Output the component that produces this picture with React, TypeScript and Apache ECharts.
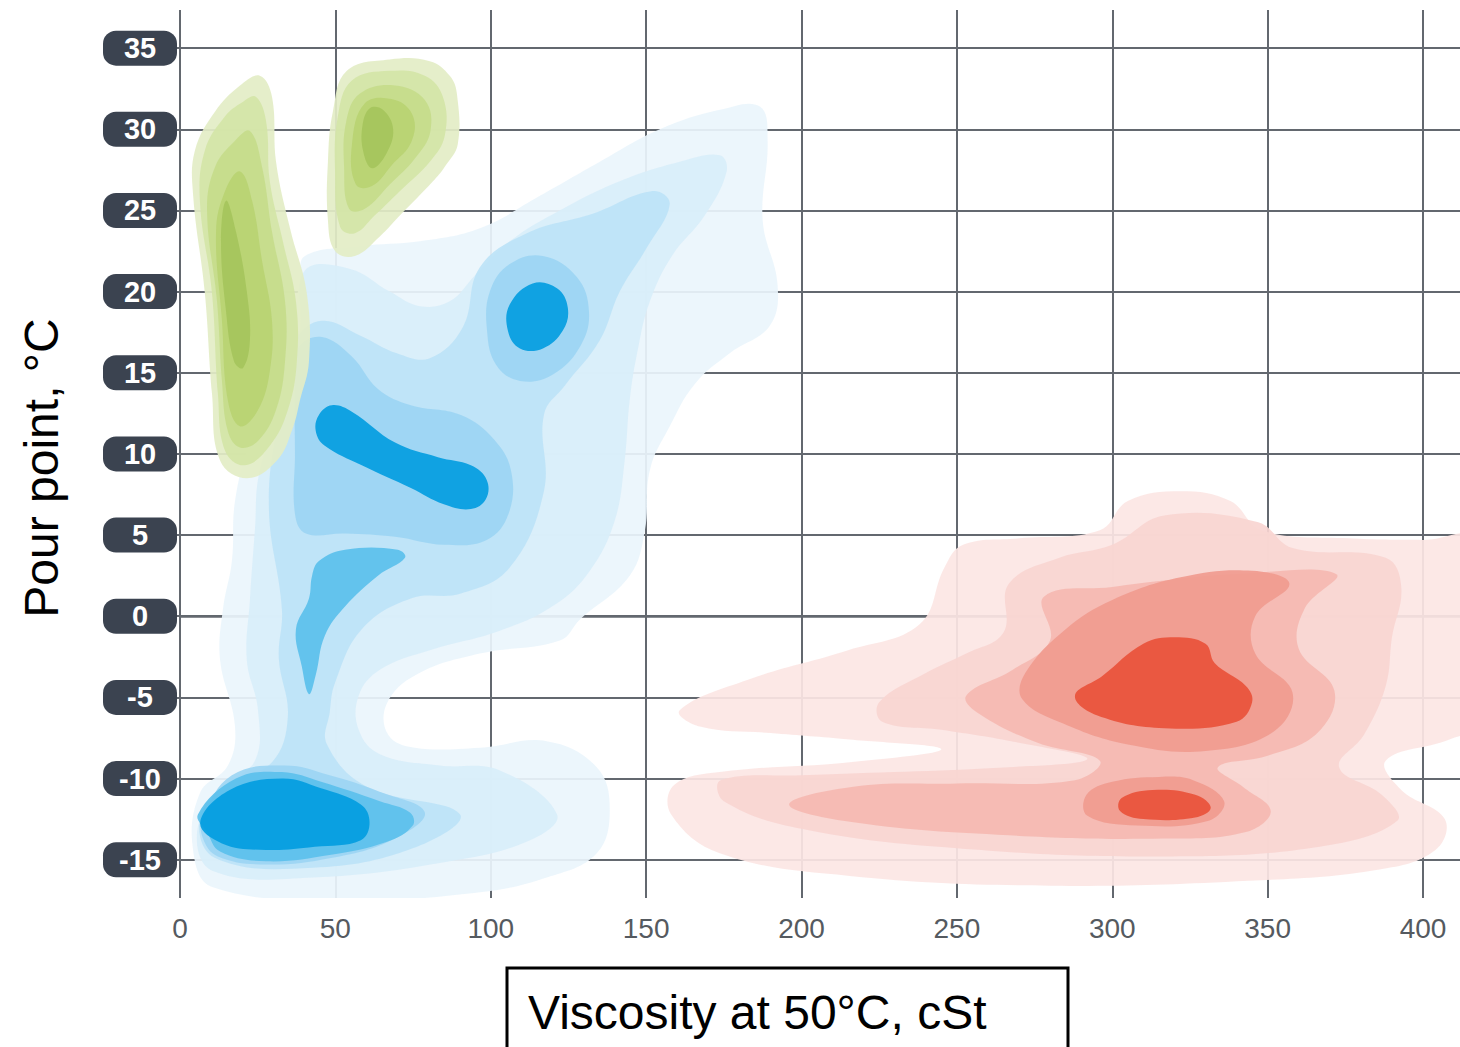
import React, { useEffect, useRef } from "react";
import * as echarts from "echarts";

// ---------- axis ticks ----------
const xTicks = [0, 50, 100, 150, 200, 250, 300, 350, 400];
const yTicks = [-15, -10, -5, 0, 5, 10, 15, 20, 25, 30, 35];
const X_MIN = 0;
const X_MAX = 411.9;
const Y_MIN = -17.36;
const Y_MAX = 37.35;

// ---------- blue cluster contours (viscosity, pour point) ----------
const blue1 = [[40.2,22.2],[57.9,22.8],[77.2,23.1],[96.5,23.9],[115.8,25.9],[135.1,28.0],[154.4,30.0],[173.7,31.2],[186.6,31.4],[189.1,29.3],[187.5,24.4],[192.3,20.4],[189.8,17.9],[176.9,16.2],[165.6,14.3],[157.6,11.7],[151.2,9.0],[149.6,5.3],[144.7,2.5],[128.7,-0.2],[122.2,-1.5],[96.5,-2.3],[76.0,-3.6],[66.5,-5.4],[67.0,-7.3],[75.5,-8.1],[96.5,-8.1],[118.0,-7.7],[134.1,-9.3],[138.3,-11.9],[134.1,-14.6],[118.0,-16.1],[96.5,-17.0],[53.7,-17.5],[10.6,-16.7],[4.2,-14.4],[6.4,-10.9],[15.4,-9.2],[17.7,-6.8],[12.9,-2.7],[13.8,0.4],[16.7,3.4],[17.7,7.1],[22.5,10.8],[35.4,17.6],[38.6,20.7]];
const blue2 = [[40.2,21.3],[54.7,21.4],[67.5,20.0],[77.2,19.1],[86.8,19.4],[94.9,21.0],[106.1,23.1],[122.2,25.0],[141.5,26.8],[160.8,28.0],[173.7,28.4],[175.9,27.4],[168.9,24.7],[158.3,22.2],[151.2,19.4],[147.3,16.4],[144.7,13.3],[143.1,9.6],[139.9,5.9],[131.9,2.8],[120.6,0.7],[102.9,-0.9],[80.4,-2.1],[64.3,-3.3],[57.5,-4.9],[57.5,-7.0],[64.3,-8.5],[83.6,-9.2],[102.9,-9.5],[121.3,-12.2],[112.6,-13.8],[86.8,-15.1],[42.8,-16.1],[10.6,-15.7],[5.5,-13.3],[12.9,-10.7],[24.1,-8.9],[25.1,-5.8],[21.5,-2.7],[22.5,1.0],[24.1,5.3],[25.7,9.0],[33.8,13.3],[38.6,17.6]];
const blue3 = [[37.3,17.0],[45.7,18.2],[57.9,17.3],[69.8,16.2],[80.4,15.9],[91.0,17.8],[96.5,21.5],[111.6,23.6],[132.8,24.8],[152.1,26.2],[157.6,25.4],[150.2,22.7],[141.5,20.0],[135.1,17.0],[123.8,14.2],[117.1,12.4],[117.1,7.7],[106.1,3.0],[90.4,1.4],[74.3,1.1],[58.5,-0.8],[49.9,-4.1],[48.2,-5.9],[47.3,-7.9],[60.1,-10.5],[90.1,-12.2],[74.9,-14.3],[42.8,-15.5],[11.3,-14.9],[6.4,-12.4],[16.1,-10.2],[29.6,-9.0],[34.7,-6.2],[31.8,-2.6],[32.8,0.4],[28.6,6.7],[31.8,12.4]];
const blue4Mid = [[38.3,16.6],[45.7,17.2],[55.3,16.0],[63.7,14.0],[74.3,13.0],[90.4,12.4],[101.0,10.9],[106.6,8.9],[105.7,6.3],[98.7,4.7],[84.9,4.4],[69.2,4.9],[53.1,5.1],[40.5,5.1],[37.0,6.3],[37.0,10.0],[37.0,14.7]];
const blue4Top = [[99.7,20.0],[106.1,21.7],[116.8,22.2],[127.7,20.9],[131.6,18.8],[129.0,16.7],[120.0,14.9],[109.4,14.5],[101.7,15.5],[98.8,17.6]];
const blue4Low = [[7.4,-12.4],[16.7,-9.8],[33.8,-9.2],[48.2,-9.8],[64.0,-10.8],[78.8,-12.1],[68.0,-13.8],[48.6,-14.9],[27.7,-15.3],[12.2,-14.8],[7.4,-13.7]];
const blue5Tri = [[44.7,3.4],[53.1,4.1],[70.1,4.1],[72.4,3.6],[63.7,2.5],[53.1,0.6],[46.6,-1.2],[43.7,-3.6],[41.5,-4.8],[39.2,-3.1],[37.3,-0.8],[41.5,1.1],[42.5,2.5]];
const blue5Low = [[5.8,-12.2],[18.0,-10.0],[32.8,-9.6],[45.4,-10.2],[64.3,-11.4],[74.0,-12.1],[74.9,-12.9],[66.6,-13.9],[48.6,-14.7],[27.7,-15.1],[12.9,-14.5],[8.7,-13.3]];
const blue6Bar = [[44.7,12.4],[48.9,13.0],[55.3,12.6],[69.2,10.7],[83.0,9.8],[93.6,9.3],[98.7,8.4],[98.4,7.2],[93.6,6.6],[84.9,6.9],[74.3,7.9],[58.5,9.3],[46.6,10.5],[43.7,11.4]];
const blue6Top = [[106.1,19.2],[113.5,20.5],[121.3,20.2],[124.8,19.0],[123.2,17.6],[116.8,16.5],[109.4,16.5],[105.5,17.6]];
const blue6Low = [[6.5,-12.7],[16.0,-10.7],[32.8,-10.0],[45.4,-10.6],[58.2,-11.6],[61.0,-12.7],[58.2,-13.8],[43.4,-14.2],[27.7,-14.4],[13.5,-14.0]];

// ---------- green clusters ----------
const greenA1 = [[25.7,33.3],[29.6,32.0],[30.9,28.0],[35.4,23.9],[40.8,19.9],[41.5,15.7],[38.6,13.3],[36.3,11.6],[31.2,9.6],[21.5,8.5],[12.9,9.6],[10.3,13.7],[8.0,19.9],[4.2,26.0],[4.8,28.7],[11.3,31.1],[19.3,32.7]];
const greenA2 = [[24.4,32.0],[27.7,30.5],[28.9,26.8],[33.1,23.1],[37.3,19.4],[37.6,15.7],[34.7,12.7],[28.9,10.5],[20.9,9.3],[14.5,10.2],[12.2,13.7],[10.3,19.9],[6.4,25.6],[8.0,28.7],[14.5,30.8],[20.3,31.7]];
const greenA3 = [[22.5,29.9],[26.4,27.7],[29.6,23.7],[33.8,19.4],[33.8,15.7],[30.9,12.7],[25.1,10.8],[19.3,10.4],[15.4,11.4],[13.5,14.5],[11.9,19.4],[8.7,25.0],[11.3,27.7],[17.7,29.3]];
const greenA4 = [[19.3,27.4],[23.2,25.6],[26.4,21.9],[29.6,18.2],[28.9,15.1],[25.1,12.7],[19.3,11.7],[15.4,13.3],[13.5,18.2],[11.6,23.7],[14.5,26.2]];
const greenA5 = [[14.8,25.6],[18.0,23.7],[21.5,20.0],[22.5,17.0],[20.3,15.3],[17.4,15.7],[14.8,18.8],[13.2,23.1]];
const greenB1 = [[53.7,33.6],[67.5,34.3],[80.4,34.2],[86.8,33.3],[89.1,32.2],[89.4,29.1],[85.2,27.7],[81.4,26.8],[70.8,24.7],[64.3,23.4],[56.3,22.2],[49.9,22.5],[47.6,24.4],[47.6,28.0],[49.2,31.1]];
const greenB2 = [[55.3,33.0],[67.5,33.6],[78.8,33.3],[84.6,32.0],[85.2,29.6],[80.4,28.0],[70.8,26.2],[62.7,24.7],[56.3,23.6],[51.5,24.0],[49.9,27.4],[50.8,30.8]];
const greenB3 = [[57.9,32.2],[69.2,32.7],[78.8,31.8],[80.6,29.9],[75.6,28.2],[67.5,26.6],[59.5,25.1],[54.4,25.1],[52.8,27.7],[53.5,30.5]];
const greenB4 = [[59.5,31.6],[69.2,31.8],[75.0,30.8],[74.4,29.2],[68.2,27.8],[61.8,26.5],[56.6,26.6],[55.3,29.0]];
const greenB5 = [[61.1,31.3],[65.3,31.2],[68.6,30.0],[66.4,28.5],[61.8,27.6],[59.0,28.6],[58.7,30.2]];

// ---------- red cluster ----------
const red1 = [[160.8,-5.8],[183,-3.9],[215,-2.1],[238,-0.5],[246,3.0],[252,4.4],[270,4.8],[296,5.3],[305,7.1],[322,7.7],[338,7.1],[348,5.3],[376,4.8],[400,4.7],[418,4.7],[418,-6.5],[408.5,-7.6],[388,-8.9],[393,-10.7],[407,-12.5],[404,-14.4],[386,-15.6],[344,-16.3],[280,-16.6],[215.5,-16],[173.7,-14.6],[158,-12.2],[159,-10.4],[173.7,-9.6],[215.5,-9],[245,-8.2],[215.5,-7.6],[190,-7.2],[167.3,-6.8]];
const red2 = [[225,-5.3],[240,-3.5],[253,-2.3],[265,-1.0],[266.7,2.0],[283,3.6],[300,4.4],[316.7,6.2],[346.7,5.8],[358,4.2],[388,3.6],[393,1.8],[390,-1.3],[388,-4.3],[381,-7.3],[373,-9.3],[386.7,-11],[391.7,-12.6],[366.7,-14.2],[316.7,-14.8],[250,-14.3],[200,-13.1],[175,-11.4],[174,-10.1],[200,-9.8],[266.7,-9.3],[292,-8.8],[270,-7.8],[245,-7.0],[226,-6.5]];
const red3 = [[268,-3.3],[280,-1.5],[278,1.2],[300,1.8],[316.7,2.2],[340,2.6],[372,2.6],[362,0.5],[360,-2],[371.5,-4.6],[366,-7.2],[350,-8.6],[334,-9.3],[342,-10.5],[351,-12],[343,-13.3],[316.7,-13.7],[266.7,-13.5],[216.7,-12.7],[196,-11.6],[216.7,-10.5],[250,-10.3],[288,-10.1],[296,-8.9],[276,-7.8],[257,-6.0],[253,-4.9]];
const red4a = [[272,-3.5],[285,-0.8],[300,1.0],[322,2.4],[345,2.8],[357,2.0],[346,0],[346,-2.3],[358,-4.7],[352,-7.1],[330,-8.3],[305,-7.9],[284,-6.6],[271,-5.1]];
const red4b = [[291.7,-11],[300,-10.2],[315,-9.9],[326,-10.1],[336,-11.4],[331,-12.6],[308,-12.9],[292,-12.3]];
const red6a = [[310,-1.7],[320,-1.3],[330,-1.7],[333,-2.9],[343,-4.3],[345,-5.3],[340,-6.5],[316.7,-6.9],[295,-6.1],[288,-4.9],[296.7,-3.7]];
const red6b = [[303,-11.2],[313,-10.7],[326.7,-11],[331.7,-11.8],[326.7,-12.4],[310,-12.5],[302.5,-12]];

// ---------- styles ----------
const BLUE = ["#eaf5fc", "#d8eefa", "#bde3f7", "#9cd5f3", "#5bc0ec", "#039de0"];
const GREEN = ["#e3edc5", "#d4e5a7", "#c6dc8b", "#b8d272", "#a5c45c"];
const RED = ["#fce6e4", "#f9d5d1", "#f5b9b1", "#f09b8f", "#e9523b"];
const GRID_COLOR = "#63686f";
const FONT = '"Liberation Sans", Arial, sans-serif';

const LAYERS: { pts: number[][]; color: string }[] = [
  { pts: blue1, color: BLUE[0] },
  { pts: blue2, color: BLUE[1] },
  { pts: blue3, color: BLUE[2] },
  { pts: blue4Mid, color: BLUE[3] },
  { pts: blue4Top, color: BLUE[3] },
  { pts: blue4Low, color: BLUE[3] },
  { pts: blue5Tri, color: BLUE[4] },
  { pts: blue5Low, color: BLUE[4] },
  { pts: blue6Bar, color: BLUE[5] },
  { pts: blue6Top, color: BLUE[5] },
  { pts: blue6Low, color: BLUE[5] },
  { pts: greenA1, color: GREEN[0] },
  { pts: greenA2, color: GREEN[1] },
  { pts: greenA3, color: GREEN[2] },
  { pts: greenA4, color: GREEN[3] },
  { pts: greenA5, color: GREEN[4] },
  { pts: greenB1, color: GREEN[0] },
  { pts: greenB2, color: GREEN[1] },
  { pts: greenB3, color: GREEN[2] },
  { pts: greenB4, color: GREEN[3] },
  { pts: greenB5, color: GREEN[4] },
  { pts: red1, color: RED[0] },
  { pts: red2, color: RED[1] },
  { pts: red3, color: RED[2] },
  { pts: red4a, color: RED[3] },
  { pts: red4b, color: RED[3] },
  { pts: red6a, color: RED[4] },
  { pts: red6b, color: RED[4] },
];

export default function App() {
  const ref = useRef<HTMLDivElement>(null);

  useEffect(() => {
    if (!ref.current) return;
    const chart = echarts.init(ref.current, null, { renderer: "svg" });

    const series = LAYERS.map((layer) => ({
      type: "custom",
      coordinateSystem: "cartesian2d",
      clip: true,
      silent: true,
      data: layer.pts,
      encode: { x: 0, y: 1 },
      renderItem: (params: any, api: any) => {
        if (params.dataIndex !== 0) return null;
        const points = layer.pts.map((p) => api.coord(p));
        return {
          type: "polygon",
          shape: { points, smooth: 0.4 },
          style: { fill: layer.color, opacity: 0.92 },
        };
      },
    }));

    chart.setOption({
      animation: false,
      backgroundColor: "#ffffff",
      grid: { left: 180, right: 0, top: 10, bottom: 149, containLabel: false, outerBoundsMode: "none" },
      xAxis: {
        type: "value",
        min: X_MIN,
        max: X_MAX,
        axisLine: { show: true, lineStyle: { color: GRID_COLOR, width: 2.5 } },
        axisTick: { show: false, customValues: xTicks },
        axisLabel: {
          customValues: xTicks,
          margin: 16,
          color: "#555a60",
          fontSize: 28,
          fontFamily: FONT,
        },
        splitLine: { show: true, lineStyle: { color: GRID_COLOR, width: 2 } },
      },
      yAxis: {
        type: "value",
        min: Y_MIN,
        max: Y_MAX,
        axisLine: { show: false },
        axisTick: { show: true, customValues: yTicks, length: 5, lineStyle: { color: GRID_COLOR, width: 2 } },
        axisLabel: {
          customValues: yTicks,
          margin: 3,
          formatter: (v: number) => `{b|${v}}`,
          backgroundColor: "#3b4350",
          borderRadius: 13,
          padding: [3, 12],
          rich: {
            b: {
              width: 50,
              align: "center",
              color: "#ffffff",
              fontSize: 29,
              lineHeight: 29,
              fontWeight: "bold",
              fontFamily: FONT,
            },
          },
        },
        splitLine: { show: true, lineStyle: { color: GRID_COLOR, width: 2 } },
      },
      graphic: [
        {
          type: "text",
          x: 41,
          y: 468,
          rotation: Math.PI / 2,
          style: {
            text: "Pour point, °C",
            font: `48px ${FONT}`,
            fill: "#000000",
            align: "center",
            verticalAlign: "middle",
          },
        },
        {
          type: "rect",
          shape: { x: 507, y: 968, width: 561, height: 100 },
          style: { fill: "#ffffff", stroke: "#000000", lineWidth: 3 },
        },
        {
          type: "text",
          x: 528,
          y: 1012,
          style: {
            text: "Viscosity at 50°C, cSt",
            font: `48px ${FONT}`,
            fill: "#000000",
            align: "left",
            verticalAlign: "middle",
          },
        },
      ],
      series,
    } as any);

    return () => chart.dispose();
  }, []);

  return (
    <div
      ref={ref}
      style={{ position: "fixed", left: 0, top: 0, width: 1460, height: 1047, background: "#fff" }}
    />
  );
}
